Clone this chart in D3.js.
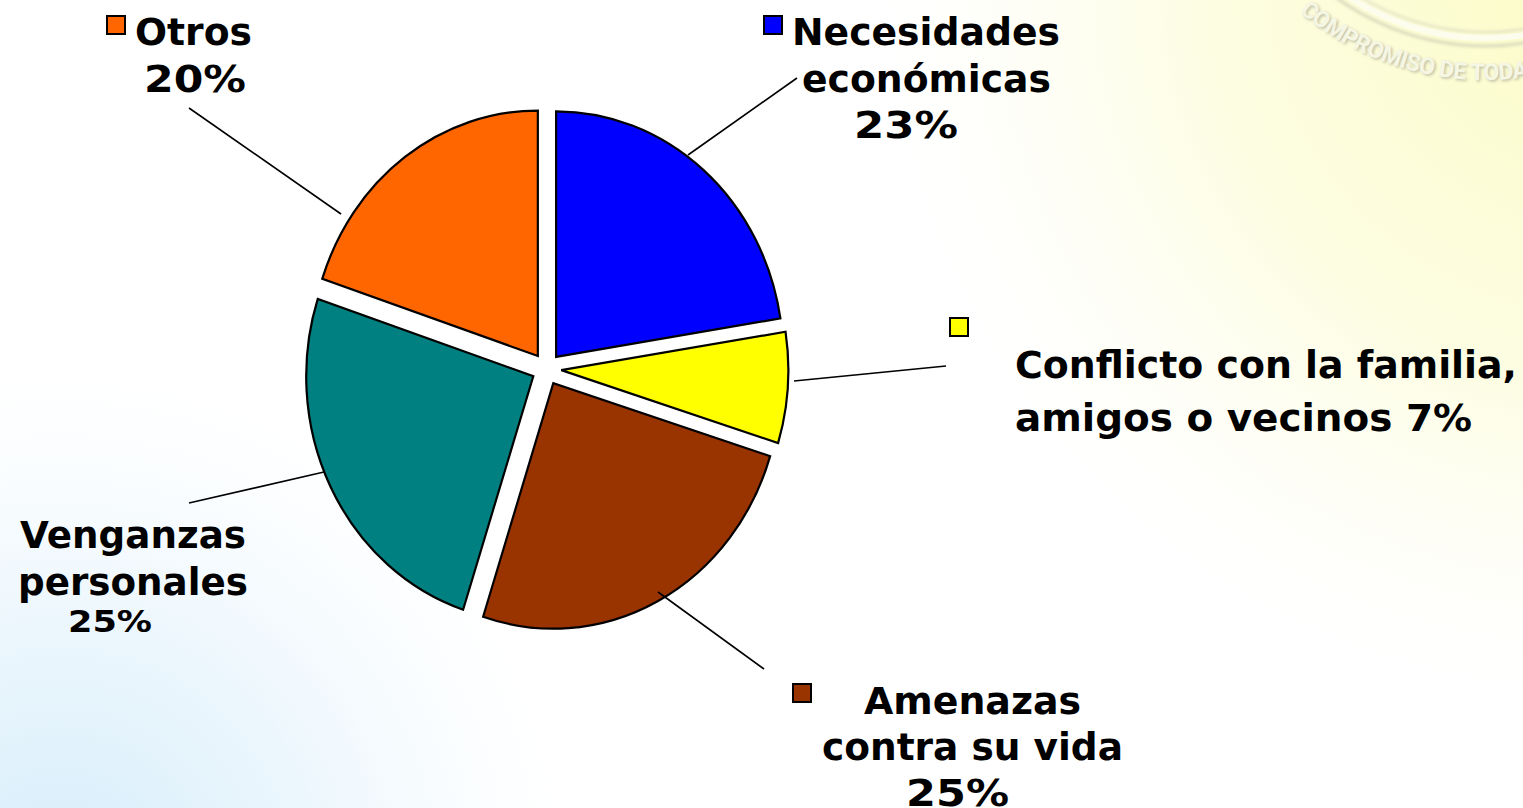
<!DOCTYPE html>
<html>
<head>
<meta charset="utf-8">
<title>Motivos</title>
<script src="https://cdn.jsdelivr.net/npm/d3@7"></script>
<style>
    html, body { margin: 0; padding: 0; overflow: hidden; background: #fff; }
    svg { display: block; }
    .label { font-family: "DejaVu Sans", sans-serif; font-weight: 700; fill: #000; }
</style>
</head>
<body>
<div id="chart"></div>
<script>
// data (slice angles as drawn, labels as printed)
var categories = ["Necesidades económicas", "Conflicto con la familia, amigos o vecinos", "Amenazas contra su vida", "Venganzas personales", "Otros"];
var values = [22.5, 7.3, 25.2, 25.1, 19.9];
var colors = ["#0000ff", "#ffff00", "#993300", "#008080", "#ff6600"];

// label lines: [text, left, baseline, width, font size]
var labelLines = [
    [["Necesidades", 792, 45, 268, 37], ["económicas", 802, 92, 249, 37], ["23%", 854, 138, 104, 37]],
    [["Conflicto con la familia,", 1015, 378, 502, 37], ["amigos o vecinos 7%", 1015, 431, 457, 37]],
    [["Amenazas", 864, 714, 217, 37], ["contra su vida", 822, 760, 301, 37], ["25%", 906, 806, 103, 37]],
    [["Venganzas", 20, 548, 226, 37], ["personales", 18, 595, 230, 37], ["25%", 68, 632, 84, 31]],
    [["Otros", 135, 45, 117, 37], ["20%", 144, 92, 102, 37]]
];
// legend key squares: top left corner
var keys = [[764, 16], [950, 318], [793, 684], null, [107, 16]];
// leader lines
var leaders = [
    [[688, 155], [797, 78]],
    [[794, 381], [946, 366]],
    [[658, 592], [764, 669]],
    [[324, 472], [189, 503]],
    [[341, 214], [189, 108]]
];

var width = 1523, height = 808;
var cx = 546.5, cy = 369, radius = 245.5, squeeze = 0.925, explode = 16;

var svg = d3.select("#chart").append("svg")
    .attr("width", width)
    .attr("height", height);

var defs = svg.append("defs");

// slide background
var blue = defs.append("radialGradient").attr("id", "bgBlue")
    .attr("gradientUnits", "userSpaceOnUse")
    .attr("cx", 60).attr("cy", 880).attr("r", 520);
blue.append("stop").attr("offset", 0).attr("stop-color", "#d4ecfa").attr("stop-opacity", 1);
blue.append("stop").attr("offset", 0.5).attr("stop-color", "#e4f3fc").attr("stop-opacity", 0.7);
blue.append("stop").attr("offset", 1).attr("stop-color", "#f4fafe").attr("stop-opacity", 0);

var yellow = defs.append("radialGradient").attr("id", "bgYellow")
    .attr("gradientUnits", "userSpaceOnUse")
    .attr("cx", 1600).attr("cy", -20).attr("r", 720);
yellow.append("stop").attr("offset", 0).attr("stop-color", "#fbfcc4").attr("stop-opacity", 1);
yellow.append("stop").attr("offset", 0.55).attr("stop-color", "#fcfcd6").attr("stop-opacity", 0.7);
yellow.append("stop").attr("offset", 1).attr("stop-color", "#fefeee").attr("stop-opacity", 0);

defs.append("filter").attr("id", "soft")
    .attr("x", "-20%").attr("y", "-20%").attr("width", "140%").attr("height", "140%")
    .append("feGaussianBlur").attr("stdDeviation", 1.5);

svg.append("rect").attr("width", width).attr("height", height).attr("fill", "#fff");
svg.append("rect").attr("width", width).attr("height", height).attr("fill", "url(#bgBlue)");
svg.append("rect").attr("width", width).attr("height", height).attr("fill", "url(#bgYellow)");

// faded seal in the corner
var sealX = 1486, sealY = -210;
var seal = svg.append("g").attr("transform", "translate(" + sealX + "," + sealY + ")");
seal.append("circle").attr("r", 256).attr("fill", "none")
    .attr("stroke", "#d9dabc").attr("stroke-width", 3).attr("filter", "url(#soft)");
seal.append("circle").attr("r", 248).attr("fill", "none")
    .attr("stroke", "#fdfdee").attr("stroke-width", 6);
seal.append("circle").attr("r", 242).attr("fill", "none")
    .attr("stroke", "#e0e1c2").attr("stroke-width", 2).attr("filter", "url(#soft)");

var sealPath = d3.path();
sealPath.arc(sealX, sealY, 290, 2.27, 0.3, true);
defs.append("path").attr("id", "sealArc").attr("d", sealPath.toString());

[["#bdbda4", "url(#soft)", 1.5], ["#f6f6e4", null, 0]].forEach(function(s) {
    svg.append("text")
        .attr("font-family", "Roboto, sans-serif")
        .attr("font-weight", 700)
        .attr("font-size", 23)
        .attr("letter-spacing", -0.4)
        .attr("fill", s[0])
        .attr("filter", s[1])
        .attr("transform", "translate(" + s[2] + "," + s[2] + ")")
        .append("textPath")
        .attr("href", "#sealArc")
        .text("COMPROMISO DE TODA");
});

// pie
var pie = d3.pie().sort(null);
var arc = d3.arc().innerRadius(0).outerRadius(radius);
var shift = d3.arc().innerRadius(explode).outerRadius(explode);

var slices = svg.append("g")
    .attr("transform", "translate(" + cx + "," + cy + ") scale(" + squeeze + ",1)")
    .selectAll(".slice")
    .data(pie(values))
    .enter().append("path")
    .attr("class", "slice")
    .attr("d", arc)
    .attr("transform", function(d) { return "translate(" + shift.centroid(d) + ")"; })
    .attr("fill", function(d, i) { return colors[i]; })
    .attr("stroke", "#000")
    .attr("stroke-width", 2.2)
    .attr("stroke-linejoin", "miter")
    .attr("vector-effect", "non-scaling-stroke");

// leader lines
svg.append("g").selectAll("line")
    .data(leaders)
    .enter().append("line")
    .attr("x1", function(d) { return d[0][0]; })
    .attr("y1", function(d) { return d[0][1]; })
    .attr("x2", function(d) { return d[1][0]; })
    .attr("y2", function(d) { return d[1][1]; })
    .attr("stroke", "#000")
    .attr("stroke-width", 1.6);

// legend keys
svg.append("g").selectAll("rect")
    .data(keys.map(function(k, i) { return {pos: k, color: colors[i]}; }).filter(function(k) { return k.pos; }))
    .enter().append("rect")
    .attr("x", function(d) { return d.pos[0]; })
    .attr("y", function(d) { return d.pos[1]; })
    .attr("width", 18)
    .attr("height", 18)
    .attr("fill", function(d) { return d.color; })
    .attr("stroke", "#000")
    .attr("stroke-width", 2);

// labels
svg.append("g").selectAll("text")
    .data(d3.merge(labelLines))
    .enter().append("text")
    .attr("class", "label")
    .attr("x", function(d) { return d[1]; })
    .attr("y", function(d) { return d[2]; })
    .attr("textLength", function(d) { return d[3]; })
    .attr("lengthAdjust", "spacingAndGlyphs")
    .attr("font-size", function(d) { return d[4]; })
    .text(function(d) { return d[0]; });
</script>
</body>
</html>
